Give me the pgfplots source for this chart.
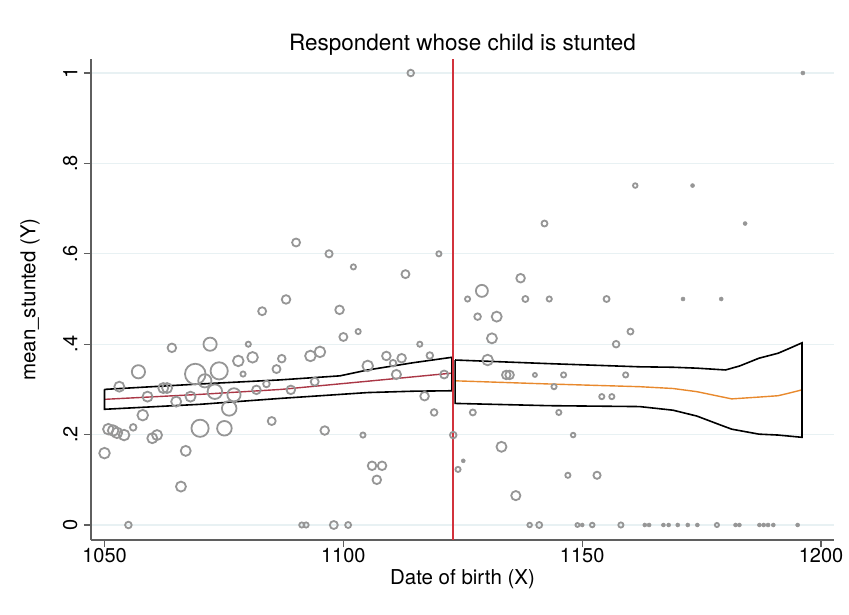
\documentclass[border=0pt]{standalone}
\usepackage{fontspec}
\setmainfont{TeX Gyre Heros}
\usepackage{pgfplots}
\pgfplotsset{compat=1.18}
\definecolor{markgray}{RGB}{150,150,150}
\definecolor{gridblue}{RGB}{232,241,243}
\definecolor{axgray}{RGB}{95,95,95}
\definecolor{cutred}{RGB}{210,50,60}
\definecolor{fitred}{RGB}{170,55,70}
\definecolor{fitorange}{RGB}{232,137,45}
\begin{document}
\begin{tikzpicture}
\useasboundingbox (-91pt,-74pt) rectangle (758pt,540pt);
\begin{axis}[
  at={(0,0)}, anchor=south west,
  scale only axis, width=743pt, height=481pt,
  xmin=1047.17, xmax=1202.71, ymin=-0.0332, ymax=1.031,
  axis x line*=bottom, axis y line*=left,
  axis line style={draw=axgray, line width=1.3pt},
  every tick/.style={draw=axgray, line width=1.3pt},
  tick align=outside, major tick length=7pt,
  xtick={1050,1100,1150,1200},
  ytick={0,0.2,0.4,0.6,0.8,1},
  yticklabels={0,.2,.4,.6,.8,1},
  /pgf/number format/assume math mode=true,
  /pgf/number format/set thousands separator={},
  ticklabel style={font=\fontsize{20}{24}\selectfont},
  yticklabel style={rotate=90, anchor=south, yshift=3pt},
  xticklabel style={yshift=2pt},
  ymajorgrids, grid style={draw=gridblue, line width=1.3pt},
  title={Respondent whose child is stunted},
  title style={at={(axis description cs:0.5,1.0166)}, anchor=center, font=\fontsize{22.5}{26}\selectfont},
  xlabel={Date of birth (X)},
  xlabel style={at={(axis description cs:0.5,-0.081)}, anchor=center, font=\fontsize{20.5}{24}\selectfont},
  ylabel={mean\_stunted (Y)},
  ylabel style={at={(axis description cs:-0.0821,0.5)}, anchor=center, rotate=0, font=\fontsize{20.5}{24}\selectfont},
  clip=false,
]
% scatter of bin means (hollow circles), marker radius r (pt)
\addplot[scatter, only marks, mark=o, line width=1.8pt,
  scatter/use mapped color={draw=markgray, fill=none},
  visualization depends on={\thisrow{r}\as\rad},
  scatter/@pre marker code/.append style={/tikz/mark size=\rad pt}]
table {
x y r
1050.0 0.159 5.3
1050.8 0.212 5.3
1051.8 0.209 5.3
1052.6 0.204 5.3
1053.1 0.306 5.0
1054.1 0.199 5.3
1055.0 0.000 3.3
1056.0 0.216 3.3
1057.1 0.339 6.6
1058.0 0.243 5.3
1059.0 0.284 5.0
1060.0 0.192 5.0
1061.0 0.199 5.0
1062.3 0.303 5.0
1063.1 0.303 5.0
1064.1 0.392 4.3
1065.0 0.273 5.0
1066.0 0.085 5.0
1067.0 0.164 5.0
1068.0 0.284 5.0
1069.0 0.334 10.3
1070.0 0.214 8.6
1071.0 0.319 6.6
1072.1 0.400 6.6
1073.1 0.295 7.3
1074.0 0.341 8.6
1075.1 0.214 7.3
1076.1 0.258 7.3
1077.1 0.288 6.6
1078.0 0.363 5.3
1079.0 0.334 2.6
1080.1 0.400 2.6
1081.0 0.371 5.3
1081.8 0.299 4.3
1083.0 0.473 4.0
1083.9 0.312 3.3
1085.0 0.230 4.0
1086.0 0.345 4.0
1087.1 0.368 3.8
1088.0 0.499 4.3
1089.0 0.299 4.3
1090.1 0.625 4.0
1091.3 0.000 2.6
1092.2 0.000 2.6
1093.1 0.374 5.3
1094.0 0.317 4.0
1095.1 0.383 5.3
1096.1 0.209 4.3
1097.0 0.600 3.6
1098.0 0.000 4.0
1099.2 0.476 4.3
1100.0 0.416 4.0
1101.0 0.000 3.0
1102.1 0.571 2.6
1103.1 0.428 2.6
1104.1 0.199 2.6
1105.1 0.352 5.3
1106.0 0.131 4.3
1107.0 0.100 4.3
1108.1 0.131 4.3
1109.0 0.374 4.3
1110.4 0.358 3.3
1111.1 0.333 4.6
1112.2 0.369 4.3
1113.0 0.555 4.0
1114.1 1.000 3.3
1116.0 0.400 2.6
1117.0 0.285 4.3
1118.1 0.375 3.3
1119.0 0.249 3.3
1120.0 0.600 2.6
1121.1 0.333 4.0
1123.0 0.199 3.3
1124.0 0.123 2.6
1126.0 0.500 2.6
1127.1 0.249 3.0
1128.1 0.461 3.3
1129.0 0.518 6.0
1130.2 0.365 5.3
1131.1 0.413 5.0
1132.1 0.461 5.0
1133.1 0.173 5.0
1134.1 0.332 4.3
1134.8 0.332 4.3
1136.1 0.065 4.6
1137.1 0.546 4.3
1138.1 0.500 3.0
1139.0 0.000 2.3
1140.1 0.332 2.0
1141.0 0.000 3.0
1142.1 0.667 3.0
1143.1 0.500 2.6
1144.1 0.306 2.6
1145.1 0.249 2.6
1146.1 0.332 2.6
1147.0 0.110 2.6
1148.1 0.199 2.3
1149.0 0.000 2.0
1152.1 0.000 2.3
1153.1 0.110 3.6
1154.1 0.284 2.6
1155.1 0.500 3.0
1156.2 0.284 2.6
1157.1 0.400 3.3
1158.1 0.000 2.6
1159.1 0.332 2.6
1160.1 0.428 3.0
1161.1 0.751 2.3
1178.2 0.000 2.1
};
% smallest bins: solid dots
\addplot[only marks, mark=*, mark size=2pt,
  mark options={draw=markgray, fill=markgray, line width=0.5pt}]
table {
x y
1125.1 0.142
1150.0 0.000
1163.1 0.000
1164.0 0.000
1167.0 0.000
1168.1 0.000
1170.0 0.000
1171.1 0.500
1172.1 0.000
1173.1 0.751
1174.1 0.000
1179.1 0.500
1182.1 0.000
1182.9 0.000
1184.1 0.667
1187.1 0.000
1188.0 0.000
1188.9 0.000
1190.0 0.000
1195.1 0.000
1196.2 1.000
};
% left fit and CI band
\addplot[fitred, line width=1.4pt] coordinates {
(1050,0.278) (1070,0.289) (1087,0.300) (1105,0.318) (1122.7,0.336)};
\addplot[black, line width=1.6pt] coordinates {
(1050,0.300) (1070,0.312) (1086.7,0.321) (1099.3,0.330) (1105.1,0.343) (1114.6,0.359) (1122.7,0.371)
(1122.7,0.297) (1114.6,0.296) (1105.1,0.293) (1086.7,0.280) (1070,0.267) (1050,0.256) (1050,0.300)};
% right fit and CI band
\addplot[fitorange, line width=1.4pt] coordinates {
(1123.4,0.319) (1143,0.312) (1162,0.306) (1169,0.302) (1174,0.295) (1179,0.284) (1181.3,0.279) (1187,0.283) (1191,0.286) (1193,0.291) (1196,0.299)};
\addplot[black, line width=1.6pt] coordinates {
(1123.4,0.365) (1143,0.357) (1162,0.350) (1169,0.349) (1174,0.347) (1180,0.343) (1183,0.352) (1187,0.369) (1191,0.380) (1193,0.389) (1196,0.403)
(1196,0.194) (1191,0.199) (1187,0.201) (1181.3,0.212) (1179,0.221) (1174,0.241) (1169,0.254) (1162,0.262) (1143,0.264) (1123.4,0.269) (1123.4,0.365)};
% cutoff
\addplot[cutred, line width=1.5pt] coordinates {(1123,-0.0332) (1123,1.031)};
\end{axis}
\end{tikzpicture}
\end{document}
